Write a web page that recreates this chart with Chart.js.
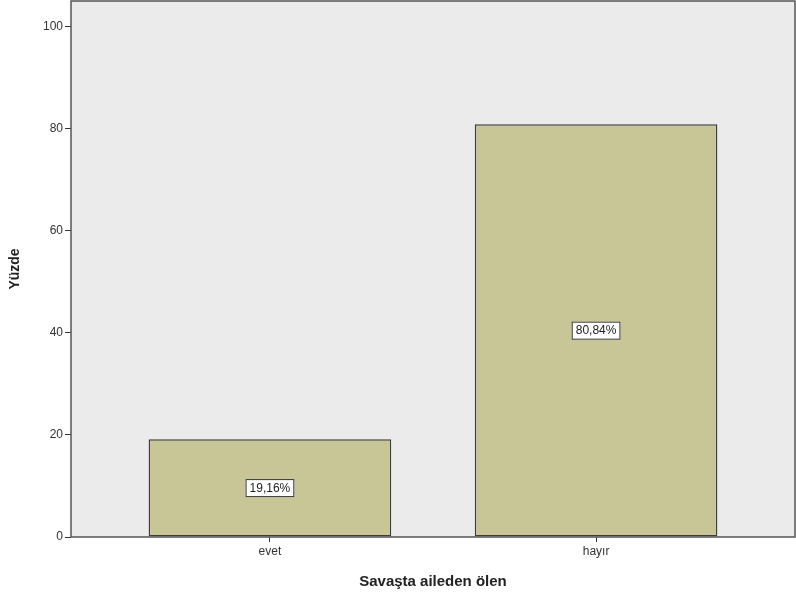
<!DOCTYPE html>
<html>
<head>
<meta charset="utf-8">
<script src="https://cdn.jsdelivr.net/npm/chart.js@4.4.0/dist/chart.umd.min.js"></script>
<style>
  html, body { margin: 0; padding: 0; background: #fff; }
  #wrap { width: 796px; height: 603px; }
</style>
</head>
<body>
<div id="wrap"><canvas id="myChart" width="796" height="603"></canvas></div>
<script>
// data
const categories = ["evet", "hayır"];
const percents = [19.16, 80.84];
const percentLabels = ["19,16%", "80,84%"];
const yTicks = [0, 20, 40, 60, 80, 100];

// plot background + frame, value boxes in the middle of each bar
const framePlugin = {
  id: "frame",
  beforeDraw(chart) {
    const a = chart.chartArea, c = chart.ctx;
    c.save();
    c.fillStyle = "#ebebeb";
    c.fillRect(a.left, a.top, a.right - a.left, a.bottom - a.top);
    c.restore();
  },
  afterDatasetsDraw(chart) {
    const a = chart.chartArea, c = chart.ctx;
    const x = chart.scales.x, y = chart.scales.y;
    c.save();
    c.strokeStyle = "#555";
    c.lineWidth = 1.5;
    c.strokeRect(a.left, a.top, a.right - a.left, a.bottom - a.top);

    c.font = "12px Arial, 'Liberation Sans', sans-serif";
    c.textAlign = "center";
    c.textBaseline = "middle";
    percents.forEach((v, i) => {
      const px = x.getPixelForValue(i);
      const py = y.getPixelForValue(v / 2);
      const w = c.measureText(percentLabels[i]).width + 8;
      const h = 18;
      c.fillStyle = "#fff";
      c.fillRect(px - w / 2, py - h / 2, w, h);
      c.strokeStyle = "#333";
      c.lineWidth = 1;
      c.strokeRect(px - w / 2 + 0.5, py - h / 2 + 0.5, w - 1, h - 1);
      c.fillStyle = "#222";
      c.fillText(percentLabels[i], px, py + 0.5);
    });
    c.restore();
  }
};

document.addEventListener("DOMContentLoaded", function () {
  const ctx = document.getElementById("myChart");
  new Chart(ctx, {
    type: "bar",
    data: {
      datasets: [
        {
          label: "Yüzde",
          data: percents.map((v, i) => ({ x: i, y: v })),
          backgroundColor: "#c8c697",
          borderColor: "#3d3d3d",
          borderWidth: 1.5,
          borderSkipped: false,
          categoryPercentage: 1,
          barPercentage: 0.744,
        },
      ],
    },
    plugins: [framePlugin],
    options: {
      responsive: false,
      animation: false,
      events: [],
      layout: { padding: { top: 1, right: 1, left: 0, bottom: 0 } },
      plugins: {
        legend: { display: false },
        tooltip: { enabled: false },
      },
      scales: {
        x: {
          type: "linear",
          min: -0.61,
          max: 1.61,
          offset: false,
          afterBuildTicks(scale) {
            scale.ticks = categories.map((c, i) => ({ value: i }));
          },
          afterFit(scale) {
            scale.height = 66;
            scale.paddingLeft = 0;
            scale.paddingRight = 0;
          },
          grid: {
            drawOnChartArea: false,
            offset: false,
            color: "#333",
            tickLength: 5,
          },
          border: { display: false },
          ticks: {
            callback: (v) => categories[v],
            color: "#333",
            font: { family: "Arial, 'Liberation Sans', sans-serif", size: 12 },
            padding: 2,
            maxRotation: 0,
          },
          title: {
            display: true,
            text: "Savaşta aileden ölen",
            color: "#222",
            font: { family: "Arial, 'Liberation Sans', sans-serif", size: 15, weight: "bold" },
            padding: { top: 10, bottom: 12 },
          },
        },
        y: {
          min: 0,
          max: 105,
          afterBuildTicks(scale) {
            scale.ticks = yTicks.map((v) => ({ value: v }));
          },
          afterFit(scale) {
            scale.width = 71;
            scale.paddingTop = 0;
            scale.paddingBottom = 0;
          },
          grid: {
            drawOnChartArea: false,
            color: "#333",
            tickLength: 6,
          },
          border: { display: false },
          ticks: {
            color: "#333",
            font: { family: "Arial, 'Liberation Sans', sans-serif", size: 12 },
            padding: 2,
          },
          title: {
            display: true,
            text: "Yüzde",
            color: "#222",
            font: { family: "Arial, 'Liberation Sans', sans-serif", size: 14, weight: "bold" },
            padding: { top: 7, bottom: 0 },
          },
        },
      },
    },
  });
});
</script>
</body>
</html>
